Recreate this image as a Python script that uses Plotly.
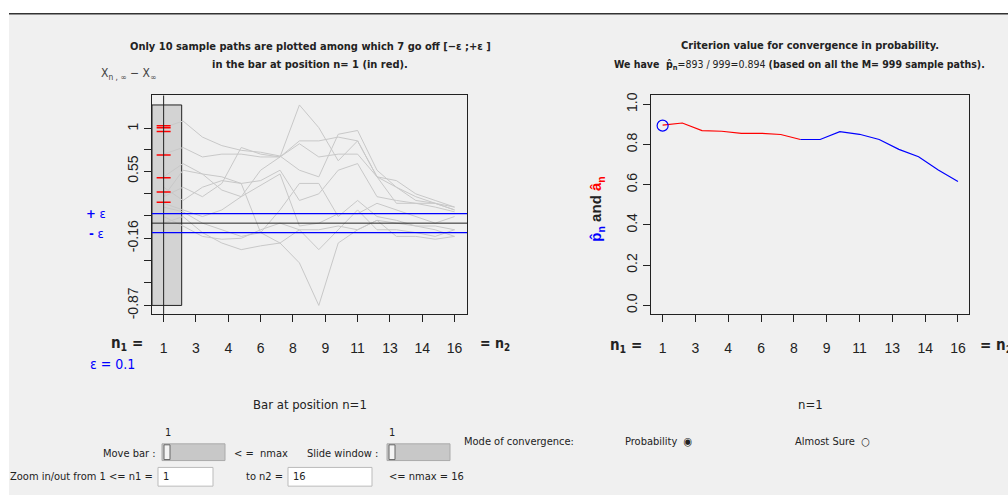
import plotly.graph_objects as go

# ---- data ----
n = list(range(1, 17))
tick_pos = [1 + i * 15 / 9 for i in range(10)]
tick_lab = ["1", "3", "4", "6", "8", "9", "11", "13", "14", "16"]

paths = [
    [1.01, 1.08, 0.91, 0.82, 0.77, 0.75, 0.71, 0.56, 0.49, 0.94, 0.98, 0.56, 0.38, 0.28, 0.21, 0.14],
    [0.21, 0.14, 0.07, 0.14, 0.28, 0.56, 0.70, 1.25, 1.01, 0.66, 0.87, 0.49, 0.38, 0.24, 0.21, 0.14],
    [0.17, 0.12, 0.00, -0.07, -0.14, -0.10, -0.21, -0.42, -0.87, -0.21, -0.07, 0.03, 0.00, -0.03, -0.03, -0.07],
    [0.28, 0.38, 0.28, 0.42, 0.80, 0.73, 0.70, 0.87, 0.87, 0.91, 0.87, 0.49, 0.21, 0.21, 0.17, 0.12],
    [0.49, 0.63, 0.52, 0.49, 0.42, 0.45, 0.56, 0.24, 0.31, 0.56, 0.63, 0.28, 0.24, 0.21, 0.21, 0.17],
    [0.73, 0.80, 0.70, 0.73, 0.73, 0.70, 0.70, 0.84, 0.70, 0.73, 0.73, 0.49, 0.45, 0.31, 0.24, 0.17],
    [0.00, 0.07, -0.10, -0.21, -0.28, -0.24, -0.21, -0.07, -0.07, -0.03, -0.07, 0.03, -0.14, -0.14, -0.17, -0.14],
    [0.38, 0.24, 0.38, 0.45, 0.42, -0.10, 0.14, 0.42, 0.42, 0.07, 0.24, 0.07, 0.03, -0.03, -0.07, -0.14],
    [0.28, 0.56, 0.52, 0.35, 0.28, 0.40, 0.52, -0.03, 0.00, 0.10, 0.10, 0.21, 0.14, 0.07, 0.00, 0.07],
    [0.07, -0.03, -0.14, -0.17, -0.16, -0.07, 0.00, -0.07, -0.28, -0.07, 0.14, -0.07, -0.07, -0.10, -0.14, -0.07],
]
red_marks = [1.03, 1.01, 0.97, 0.72, 0.48, 0.33, 0.22]
eps = 0.1
left_yticks = [1, 0.775, 0.55, 0.31, 0.08, -0.16, -0.40, -0.63, -0.87]
left_ylabels = ["1", "", "0.55", "", "", "-0.16", "", "", "-0.87"]

p_hat = [0.897, 0.907, 0.869, 0.866, 0.856, 0.856, 0.850, 0.825,
         0.825, 0.864, 0.851, 0.825, 0.776, 0.739, 0.673, 0.616]
red_end = 8  # criterion drawn red up to n=8

W, H = 1008, 500
FONT = "Liberation Sans Narrow, DejaVu Sans Condensed, Liberation Sans"
BG = "#f0f0f0"


def px(x):
    return x / W


def py(y):
    return 1 - y / H


fig = go.Figure()

# left panel: sample paths
for p in paths:
    fig.add_trace(go.Scatter(x=n, y=p, mode="lines", line=dict(color="#c8c8c8", width=1),
                             xaxis="x", yaxis="y", hoverinfo="skip"))
fig.add_trace(go.Scatter(x=[1] * len(red_marks), y=red_marks, mode="markers",
                         marker=dict(symbol="line-ew", size=10, line=dict(color="red", width=1.5)),
                         xaxis="x", yaxis="y"))

# right panel: criterion
fig.add_trace(go.Scatter(x=n[:red_end], y=p_hat[:red_end], mode="lines",
                         line=dict(color="red", width=1.2), xaxis="x2", yaxis="y2"))
fig.add_trace(go.Scatter(x=n[red_end - 1:], y=p_hat[red_end - 1:], mode="lines",
                         line=dict(color="blue", width=1.2), xaxis="x2", yaxis="y2"))
fig.add_trace(go.Scatter(x=[1], y=[0.894], mode="markers",
                         marker=dict(symbol="circle-open", size=11, color="blue", line=dict(width=1.2)),
                         xaxis="x2", yaxis="y2"))

ax_common = dict(showline=True, mirror=True, linecolor="#222", linewidth=1, showgrid=False,
                 zeroline=False, ticks="outside", ticklen=7, tickcolor="#222",
                 tickfont=dict(family="Arial, Liberation Sans", size=14, color="#222"), fixedrange=True)

fig.update_layout(
    width=W, height=H, margin=dict(l=0, r=0, t=0, b=0),
    paper_bgcolor="white", plot_bgcolor=BG, showlegend=False,
    xaxis=dict(domain=[px(152), px(467)], range=[0.40, 16.64], tickvals=tick_pos, ticktext=tick_lab,
               ticklabelstandoff=14, anchor="y", **ax_common),
    yaxis=dict(domain=[py(316), py(94)], range=[-0.96, 1.35], tickvals=left_yticks, ticktext=left_ylabels,
               tickangle=-90, anchor="x", **ax_common),
    xaxis2=dict(domain=[px(651), px(969)], range=[0.41, 16.56], tickvals=tick_pos, ticktext=tick_lab,
                ticklabelstandoff=14, anchor="y2", **ax_common),
    yaxis2=dict(domain=[py(316), py(94)], range=[-0.043, 1.044], tickvals=[0, 0.2, 0.4, 0.6, 0.8, 1.0],
                ticktext=["0.0", "0.2", "0.4", "0.6", "0.8", "1.0"], tickangle=-90, anchor="x2", **ax_common),
)

shapes = [
    # window background and top rule
    dict(type="rect", xref="paper", yref="paper", x0=px(9), x1=1, y0=0, y1=py(11),
         fillcolor=BG, line=dict(width=0), layer="below"),
    dict(type="line", xref="paper", yref="paper", x0=px(9), x1=1, y0=py(11), y1=py(11),
         line=dict(color="#333", width=1.5)),
    # gray bar
    dict(type="rect", xref="x", yref="y", x0=0.40, x1=1.93, y0=-0.87, y1=1.25,
         fillcolor="#d3d3d3", line=dict(color="#222", width=1), layer="below"),
    dict(type="line", xref="x", yref="paper", x0=1, x1=1, y0=py(316), y1=py(94),
         line=dict(color="#222", width=1)),
    dict(type="line", xref="x domain", yref="y", x0=0, x1=1, y0=0, y1=0, line=dict(color="#222", width=1)),
    dict(type="line", xref="x domain", yref="y", x0=0, x1=1, y0=eps, y1=eps, line=dict(color="blue", width=1.2)),
    dict(type="line", xref="x domain", yref="y", x0=0, x1=1, y0=-eps, y1=-eps, line=dict(color="blue", width=1.2)),
    # widgets
    dict(type="rect", xref="paper", yref="paper", x0=px(162), x1=px(225), y0=py(465), y1=py(448),
         fillcolor="#c8c8c8", line=dict(color="#aaa", width=1)),
    dict(type="rect", xref="paper", yref="paper", x0=px(164), x1=px(170), y0=py(464), y1=py(449),
         fillcolor="#f4f4f4", line=dict(color="#666", width=1)),
    dict(type="rect", xref="paper", yref="paper", x0=px(387), x1=px(450), y0=py(465), y1=py(448),
         fillcolor="#c8c8c8", line=dict(color="#aaa", width=1)),
    dict(type="rect", xref="paper", yref="paper", x0=px(389), x1=px(395), y0=py(464), y1=py(449),
         fillcolor="#f4f4f4", line=dict(color="#666", width=1)),
    dict(type="rect", xref="paper", yref="paper", x0=px(158), x1=px(213), y0=py(491), y1=py(472),
         fillcolor="white", line=dict(color="#bbb", width=1)),
    dict(type="rect", xref="paper", yref="paper", x0=px(288), x1=px(372), y0=py(491), y1=py(472),
         fillcolor="white", line=dict(color="#bbb", width=1)),
]
fig.update_layout(shapes=shapes)


def note(x, y, text, size=11, color="#222", xanchor="center", font=FONT, angle=0):
    fig.add_annotation(x=px(x), y=py(y), xref="paper", yref="paper", text=text, showarrow=False,
                       xanchor=xanchor, yanchor="middle", textangle=angle,
                       font=dict(family=font, size=size, color=color))


note(310, 44, "<b>Only 10 sample paths are plotted among which 7 go off [−ε ;+ε ]</b>")
note(310, 63, "<b>in the bar at position n= 1 (in red).</b>")
note(128, 72, "X<sub>n , ∞</sub> − X<sub>∞</sub>", size=12, color="#444")
note(96, 214, "<b>+</b> ε", color="blue", size=13)
note(96, 234, "<b>-</b> ε", color="blue", size=13)
note(127, 346, "<b>n<sub>1</sub> =</b>", size=15)
note(478, 347, "<b>= n<sub>2</sub></b>", size=14, xanchor="left")
note(112, 367, "ε = 0.1", color="blue", size=14)

note(810, 43, "<b>Criterion value for convergence in probability.</b>")
note(612, 63, "<b>We have  p̂<sub>n</sub></b>=893 / 999=0.894 <b>(based on all the M= 999 sample paths).</b>",
     xanchor="left", size=10.5)
note(597, 210, "<b><span style='color:blue'>p̂<sub>n</sub></span> and <span style='color:red'>â<sub>n</sub></span></b>",
     size=15, color="#222", font="Arial, Liberation Sans", angle=-90)
note(626, 348, "<b>n<sub>1</sub> =</b>", size=15)
note(978, 348, "<b>= n<sub>2</sub></b>", size=15, xanchor="left")

note(310, 408, "Bar at position n=1", size=13)
note(810, 408, "n=1", size=13)
note(168, 436, "1")
note(158, 458, "Move bar :", xanchor="right")
note(232, 458, "< =  nmax", xanchor="left")
note(380, 458, "Slide window :", xanchor="right")
note(392, 436, "1")
note(462, 446, "Mode of convergence:", xanchor="left")
note(623, 446, "Probability  ◉", xanchor="left")
note(793, 446, "Almost Sure  ○", xanchor="left")
note(155, 481, "Zoom in/out from 1 <= n1 =", xanchor="right")
note(161, 481, "1", xanchor="left")
note(285, 481, "to n2 =", xanchor="right")
note(291, 481, "16", xanchor="left")
note(387, 481, "<= nmax = 16", xanchor="left")

fig.write_html("out.html", config={"displayModeBar": False},
               post_script="document.body.style.margin='0';")
